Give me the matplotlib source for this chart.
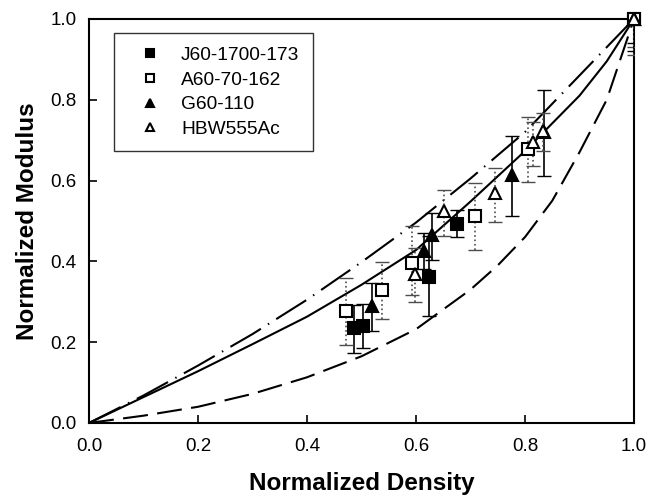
import matplotlib
matplotlib.use('Agg')
import matplotlib.pyplot as plt

plt.rcParams['font.family'] = ['Liberation Sans', 'DejaVu Sans']

# Datos
j60_x = [0.486, 0.502, 0.624, 0.675, 1.0]
j60_y = [0.236, 0.240, 0.362, 0.493, 1.0]
j60_lo = [0.062, 0.054, 0.097, 0.032, 0.06]
j60_hi = [0.056, 0.055, 0.100, 0.034, 0.0]

a60_x = [0.471, 0.537, 0.593, 0.709, 0.806, 1.0]
a60_y = [0.277, 0.329, 0.395, 0.512, 0.677, 1.0]
a60_lo = [0.084, 0.072, 0.078, 0.085, 0.080, 0.07]
a60_hi = [0.082, 0.070, 0.093, 0.082, 0.079, 0.0]

g60_x = [0.520, 0.615, 0.630, 0.777, 0.834, 1.0]
g60_y = [0.290, 0.426, 0.465, 0.614, 0.721, 1.0]
g60_lo = [0.062, 0.045, 0.062, 0.103, 0.110, 0.08]
g60_hi = [0.057, 0.045, 0.055, 0.095, 0.102, 0.0]

hbw_x = [0.599, 0.651, 0.745, 0.815, 0.833, 1.0]
hbw_y = [0.368, 0.525, 0.568, 0.696, 0.723, 1.0]
hbw_lo = [0.068, 0.062, 0.070, 0.060, 0.049, 0.09]
hbw_hi = [0.065, 0.052, 0.064, 0.050, 0.044, 0.0]

# Curvas del modelo
dd_x = [0.0, 0.1, 0.2, 0.3, 0.4, 0.5, 0.6, 0.7, 0.8, 0.9, 0.95, 1.0]
dd_y = [0.0, 0.068, 0.142, 0.220, 0.305, 0.398, 0.496, 0.605, 0.720, 0.860, 0.930, 1.0]

sol_x = [0.0, 0.1, 0.2, 0.3, 0.4, 0.5, 0.6, 0.7, 0.8, 0.9, 0.95, 1.0]
sol_y = [0.0, 0.064, 0.128, 0.195, 0.263, 0.342, 0.428, 0.548, 0.673, 0.810, 0.895, 1.0]

das_x = [0.0, 0.1, 0.2, 0.3, 0.4, 0.5, 0.6, 0.7, 0.75, 0.8, 0.85, 0.9, 0.95, 1.0]
das_y = [0.0, 0.018, 0.040, 0.072, 0.113, 0.165, 0.232, 0.330, 0.390, 0.460, 0.550, 0.670, 0.800, 1.0]

fig = plt.figure(figsize=(6.57, 4.97), dpi=100)
ax = fig.add_axes([0.1355, 0.149, 0.8295, 0.813])

ax.plot(dd_x, dd_y, color='black', lw=1.5, linestyle=(0, (17, 4, 0.7, 4)))
ax.plot(sol_x, sol_y, color='black', lw=1.5)
ax.plot(das_x, das_y, color='black', lw=1.5, linestyle=(0, (12, 4.5)))

series = [
    (j60_x, j60_y, j60_lo, j60_hi, 's', 'black', 'J60-1700-173', '-', 'black'),
    (a60_x, a60_y, a60_lo, a60_hi, 's', 'white', 'A60-70-162', ':', '0.3'),
    (g60_x, g60_y, g60_lo, g60_hi, '^', 'black', 'G60-110', '-', 'black'),
    (hbw_x, hbw_y, hbw_lo, hbw_hi, '^', 'white', 'HBW555Ac', ':', '0.3'),
]
for x, y, lo, hi, m, fc, lab, ls, ec in series:
    eb = ax.errorbar(x, y, yerr=[lo, hi], fmt='none', ecolor=ec, elinewidth=1.2,
                     capsize=5, capthick=1.0, zorder=3)
    eb[2][0].set_linestyle(ls)
    ax.plot(x, y, linestyle='none', marker=m, markersize=8, markerfacecolor=fc,
            markeredgecolor='black', markeredgewidth=1.5, label=lab,
            clip_on=False, zorder=4)

ax.set_xlim(0, 1)
ax.set_ylim(0, 1)
ticks = [0.0, 0.2, 0.4, 0.6, 0.8, 1.0]
ax.set_xticks(ticks)
ax.set_yticks(ticks)
ax.set_xticklabels(['0.0', '0.2', '0.4', '0.6', '0.8', '1.0'])
ax.set_yticklabels(['0.0', '0.2', '0.4', '0.6', '0.8', '1.0'])
ax.tick_params(direction='in', length=6, width=1.2, labelsize=13.5)
ax.tick_params(axis='x', pad=11)
ax.tick_params(axis='y', pad=9)
for s in ax.spines.values():
    s.set_linewidth(1.5)

ax.set_xlabel('Normalized Density', fontsize=17.5, fontweight='bold', labelpad=12)
ax.set_ylabel('Normalized Modulus', fontsize=17.5, fontweight='bold', labelpad=8)

leg = ax.legend(loc='upper left', bbox_to_anchor=(0.046, 0.965), fontsize=13.8,
                markerscale=0.75, frameon=True, fancybox=False, handletextpad=0.5,
                borderpad=0.7, labelspacing=0.38, handlelength=2.3, borderaxespad=0)
leg.get_frame().set_edgecolor('black')
leg.get_frame().set_linewidth(1.0)

fig.savefig('out.png', dpi=100)
